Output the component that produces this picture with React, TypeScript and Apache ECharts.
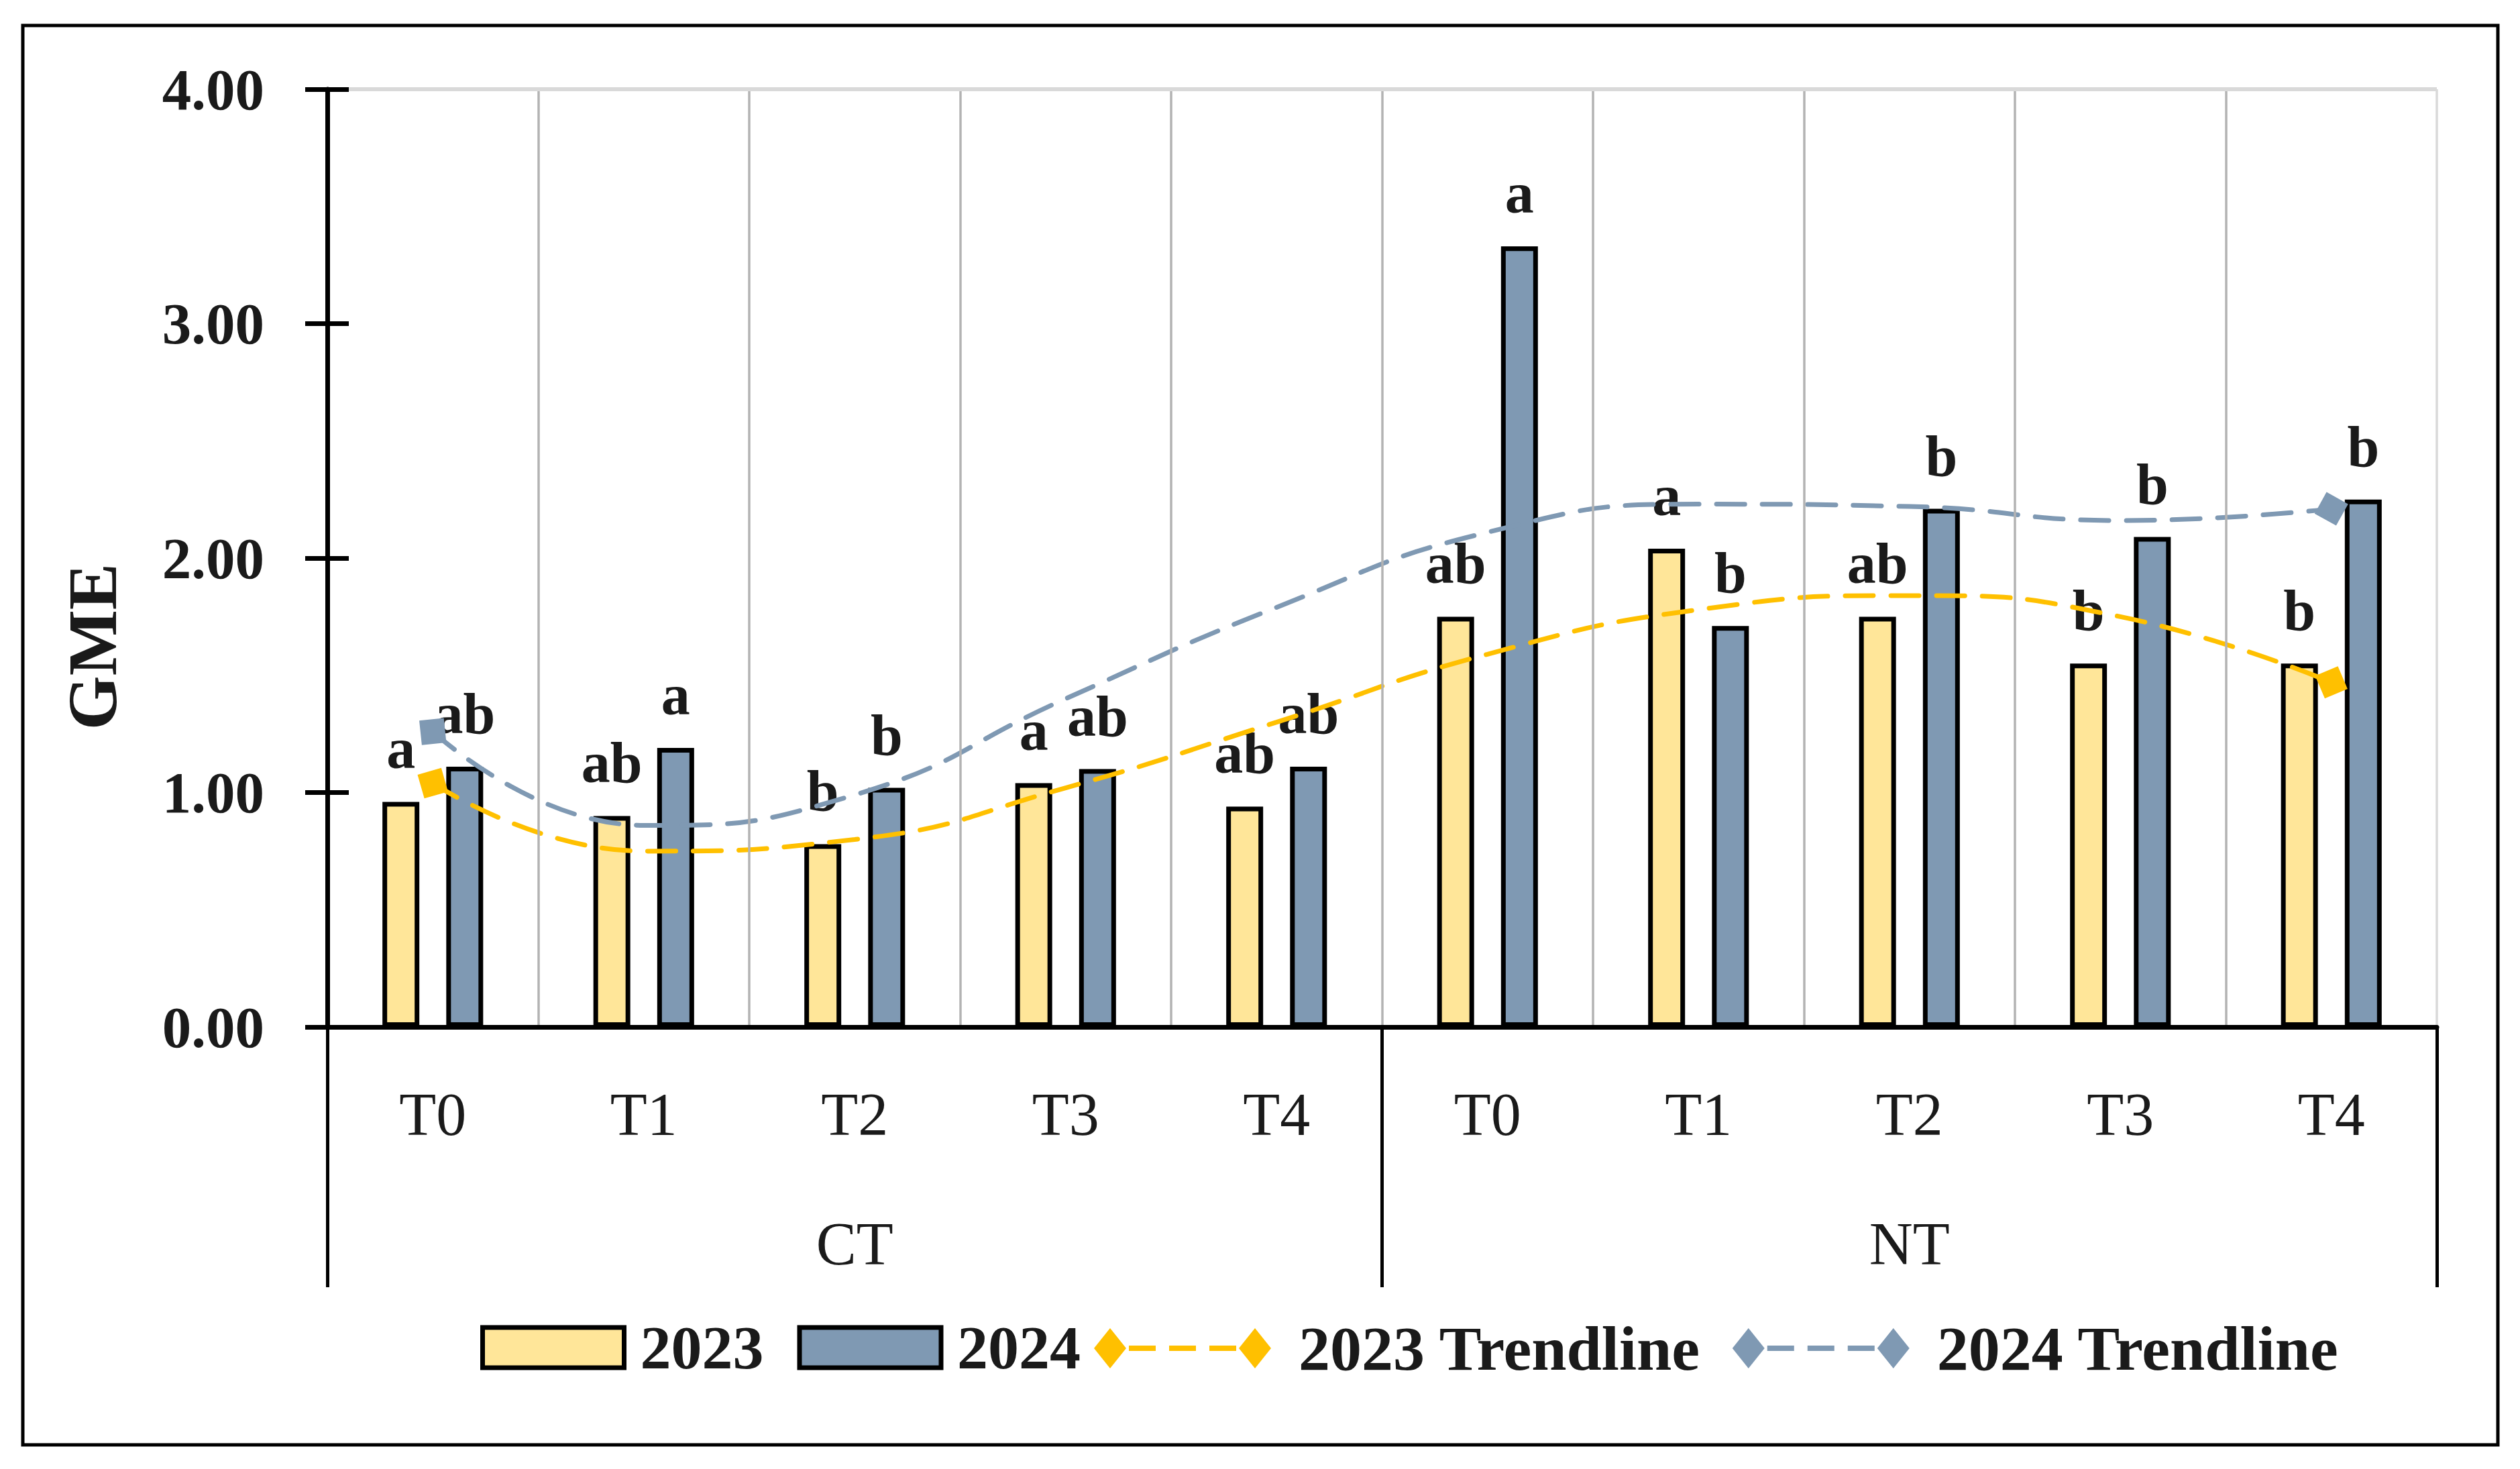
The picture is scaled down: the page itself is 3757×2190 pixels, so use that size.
import React, { useEffect, useRef } from "react";
import * as echarts from "echarts";

// ---- data ----
const groups = ["CT", "NT"];
const treatments = ["T0", "T1", "T2", "T3", "T4"];
const values2023 = [0.96, 0.9, 0.78, 1.04, 0.94, 1.75, 2.04, 1.75, 1.55, 1.55];
const values2024 = [1.11, 1.19, 1.02, 1.1, 1.11, 3.33, 1.71, 2.21, 2.09, 2.25];
const letters2023 = ["a", "ab", "b", "a", "ab", "ab", "a", "ab", "b", "b"];
const letters2024 = ["ab", "a", "b", "ab", "ab", "a", "b", "b", "b", "b"];
const trend2023 = [1.04, 0.75, 0.8, 1.02, 1.3, 1.59, 1.78, 1.84, 1.75, 1.47];
const trend2024 = [1.26, 0.86, 0.99, 1.4, 1.79, 2.11, 2.23, 2.22, 2.16, 2.21];
const yMin = 0;
const yMax = 4;
const yInterval = 1;

// ---- style ----
const FONT = "Liberation Serif";
const TEXT = "#1a1a1a";
const C2023 = "#FFE699";
const C2024 = "#7F99B3";
const T2023 = "#FFC000";
const T2024 = "#7F99B3";

const categories = groups.flatMap((g) => treatments.map((t) => `${g}|${t}`));

const trendData = (vals: number[], rotStart: number, rotEnd: number) =>
  vals.map((v, i) => {
    if (i === 0) return { value: v, symbol: "diamond", symbolSize: 52, symbolRotate: rotStart };
    if (i === vals.length - 1) return { value: v, symbol: "diamond", symbolSize: 52, symbolRotate: rotEnd };
    return { value: v, symbol: "none" };
  });

const barLabel = (letters: string[]) => ({
  show: true,
  position: "top",
  distance: 36,
  formatter: (p: any) => letters[p.dataIndex],
  fontFamily: FONT,
  fontWeight: "bold",
  fontSize: 86,
  color: TEXT,
});

const trendIcon =
  "path://M0,30L24,0L48,30L24,60ZM216,30L240,0L264,30L240,60ZM52,26H92V34H52ZM112,26H152V34H112ZM172,26H212V34H172Z";

const transparent = "rgba(0,0,0,0)";

export default function App() {
  const ref = useRef<HTMLDivElement>(null);
  useEffect(() => {
    if (!ref.current) return;
    const chart = echarts.init(ref.current, undefined, { renderer: "svg" });
    const xSplitColors = categories.map(() => "#b3b3b3").concat(["#d9d9d9"]);
    const legendText = { fontFamily: FONT, fontWeight: "bold", color: TEXT };
    const option: any = {
      animation: false,
      backgroundColor: "#ffffff",
      grid: { left: 488, right: 124, top: 133, bottom: 659, containLabel: false },
      legend: [
        {
          data: [
            { name: "2023", icon: "rect", itemStyle: { color: C2023, borderColor: "#000", borderWidth: 7 } },
            { name: "2024", icon: "rect", itemStyle: { color: C2024, borderColor: "#000", borderWidth: 7 } },
          ],
          left: 716,
          top: 1963,
          padding: 0,
          itemWidth: 211,
          itemHeight: 60,
          itemGap: 50,
          selectedMode: false,
          textStyle: { ...legendText, fontSize: 92, padding: [0, 0, 0, 19] },
        },
        {
          data: [
            { name: "2023 Trendline", icon: trendIcon, itemStyle: { color: T2023, borderWidth: 0 } },
            { name: "2024 Trendline", icon: trendIcon, itemStyle: { color: T2024, borderWidth: 0 } },
          ],
          left: 1631,
          top: 1963,
          padding: 0,
          itemWidth: 264,
          itemHeight: 60,
          itemGap: 47,
          selectedMode: false,
          textStyle: { ...legendText, fontSize: 94, padding: [0, 0, 0, 36] },
        },
      ],
      xAxis: [
        {
          type: "category",
          data: categories,
          position: "bottom",
          axisLine: { show: true, lineStyle: { color: "#000", width: 7 } },
          axisTick: { show: false },
          axisLabel: {
            interval: 0,
            margin: 85,
            formatter: (v: string) => v.split("|")[1],
            fontFamily: FONT,
            fontSize: 90,
            color: TEXT,
          },
          splitLine: { show: true, interval: 0, lineStyle: { color: xSplitColors, width: 3.5 } },
          z: 5,
        },
        {
          type: "category",
          data: groups,
          position: "bottom",
          axisLine: { show: false },
          axisTick: { show: true, interval: 0, length: 388, lineStyle: { color: "#000", width: 5 } },
          axisLabel: { interval: 0, margin: 278, fontFamily: FONT, fontSize: 90, color: TEXT },
          splitLine: { show: false },
        },
      ],
      yAxis: [
        {
          type: "value",
          min: yMin,
          max: yMax,
          interval: yInterval,
          axisLine: { show: true, lineStyle: { color: "#000", width: 7 } },
          axisTick: { show: true, length: 33, lineStyle: { color: "#000", width: 7 } },
          axisLabel: {
            margin: 94,
            formatter: (v: number) => v.toFixed(2),
            fontFamily: FONT,
            fontWeight: "bold",
            fontSize: 87,
            color: TEXT,
          },
          splitLine: {
            show: true,
            lineStyle: { color: [transparent, transparent, transparent, transparent, "#d9d9d9"], width: 6 },
          },
          z: 6,
        },
        {
          type: "value",
          min: yMin,
          max: yMax,
          interval: yInterval,
          position: "left",
          axisLine: { show: false },
          axisTick: { show: true, inside: true, length: 32, lineStyle: { color: "#000", width: 7 } },
          axisLabel: { show: false },
          splitLine: { show: false },
          z: 6,
        },
      ],
      series: [
        {
          name: "2023",
          type: "bar",
          data: values2023,
          barWidth: 55,
          barGap: "73%",
          itemStyle: { color: C2023, borderColor: "#000", borderWidth: 7 },
          label: barLabel(letters2023),
        },
        {
          name: "2024",
          type: "bar",
          data: values2024,
          barWidth: 55,
          barGap: "73%",
          itemStyle: { color: C2024, borderColor: "#000", borderWidth: 7 },
          label: barLabel(letters2024),
        },
        {
          name: "2023 Trendline",
          type: "line",
          data: trendData(trend2023, -29, -22),
          smooth: true,
          symbol: "diamond",
          symbolSize: 52,
          showAllSymbol: true,
          itemStyle: { color: T2023 },
          lineStyle: { color: T2023, width: 7, type: [42, 26], cap: "round" },
          z: 4,
        },
        {
          name: "2024 Trendline",
          type: "line",
          data: trendData(trend2024, -39, 16),
          smooth: true,
          symbol: "diamond",
          symbolSize: 52,
          showAllSymbol: true,
          itemStyle: { color: T2024 },
          lineStyle: { color: T2024, width: 7, type: [42, 26], cap: "round" },
          z: 4,
        },
      ],
      graphic: [
        {
          type: "rect",
          shape: { x: 34, y: 38, width: 3690, height: 2116 },
          style: { fill: "none", stroke: "#000", lineWidth: 5 },
          silent: true,
        },
        {
          type: "text",
          x: 137,
          y: 964,
          rotation: Math.PI / 2,
          style: {
            text: "GME",
            fontFamily: FONT,
            fontWeight: "bold",
            fontSize: 104,
            fill: TEXT,
            align: "center",
            verticalAlign: "middle",
          },
        },
      ],
    };
    chart.setOption(option);
    return () => chart.dispose();
  }, []);
  return (
    <div
      ref={ref}
      style={{ position: "fixed", left: 0, top: 0, width: 3757, height: 2190, background: "#fff" }}
    />
  );
}
